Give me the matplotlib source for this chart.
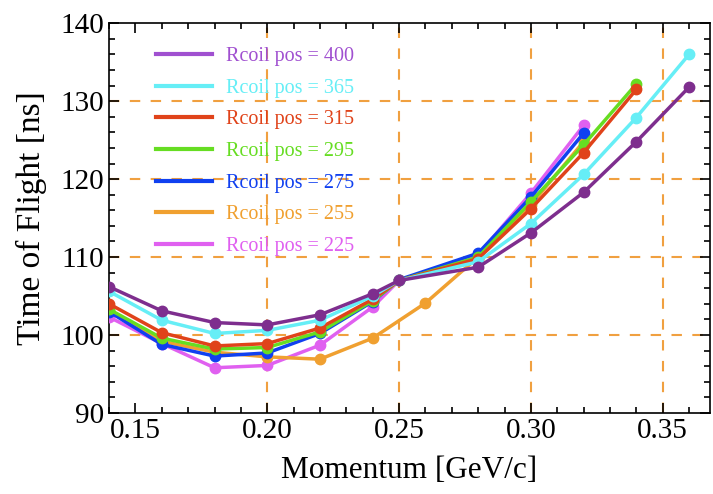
import matplotlib
matplotlib.use('Agg')
import matplotlib.pyplot as plt
from matplotlib.lines import Line2D
from matplotlib.ticker import MultipleLocator, FormatStrFormatter

plt.rcParams['font.family'] = ['Liberation Serif', 'DejaVu Serif']

# Momentum values [GeV/c]
p_std = [0.14, 0.16, 0.18, 0.20, 0.22, 0.24, 0.25, 0.28, 0.30, 0.32]
p_orange = [0.14, 0.16, 0.18, 0.20, 0.22, 0.24, 0.26, 0.28, 0.30, 0.32]
p_to_034 = p_std + [0.34]
p_to_036 = p_std + [0.34, 0.36]

# Time of flight [ns] for each Rcoil position
tof_400 = [106.2, 103.1, 101.6, 101.3, 102.6, 105.3, 107.0, 108.7, 113.1, 118.3, 124.8, 131.8]
tof_365 = [105.6, 101.9, 100.2, 100.6, 101.9, 105.0, 107.0, 109.4, 114.3, 120.6, 127.9, 136.0]
tof_315 = [104.0, 100.3, 98.6, 98.9, 100.9, 104.6, 107.0, 109.8, 116.2, 123.4, 131.5]
tof_295 = [103.3, 99.6, 98.2, 98.4, 100.4, 104.4, 107.0, 110.0, 117.1, 124.4, 132.2]
tof_275 = [103.0, 98.8, 97.3, 97.7, 100.2, 104.3, 107.1, 110.5, 117.7, 125.9]
tof_255 = [103.1, 99.2, 97.8, 97.2, 96.9, 99.6, 104.1, 110.0, 116.7, 124.8]
tof_225 = [102.3, 98.9, 95.8, 96.1, 98.7, 103.6, 107.0, 110.3, 118.2, 126.9]

labels = ['Rcoil pos = 400', 'Rcoil pos = 365', 'Rcoil pos = 315', 'Rcoil pos = 295',
          'Rcoil pos = 275', 'Rcoil pos = 255', 'Rcoil pos = 225']
xs = [p_to_036, p_to_036, p_to_034, p_to_034, p_std, p_orange, p_std]
ys = [tof_400, tof_365, tof_315, tof_295, tof_275, tof_255, tof_225]
colors = ['#7e2e8e', '#66eef6', '#e0431a', '#66dd22', '#1040f0', '#f0a030', '#e060f0']
legend_colors = ['#a050d0', '#66eef6', '#e0431a', '#66dd22', '#1040f0', '#f0a030', '#e060f0']

grid_x = [0.20, 0.25, 0.30, 0.35]
grid_y = [100, 110, 120, 130]
grid_color = '#f0a040'

fig = plt.figure(figsize=(7.13, 4.94), dpi=100)
ax = fig.add_axes([0.153, 0.164, 0.843, 0.789])

for gx in grid_x:
    ax.axvline(gx, color=grid_color, linestyle=(0, (5, 5)), linewidth=1.5, zorder=1)
for gy in grid_y:
    ax.axhline(gy, color=grid_color, linestyle=(0, (5, 5)), linewidth=1.5, zorder=1)

# draw lowest Rcoil first so larger ones sit on top
for x, y, c in reversed(list(zip(xs, ys, colors))):
    ax.plot(x, y, color=c, linewidth=2.5, marker='o', markersize=7.5, zorder=3)

ax.set_xlim(0.14, 0.368)
ax.set_ylim(90, 140)
ax.xaxis.set_major_locator(MultipleLocator(0.05))
ax.xaxis.set_minor_locator(MultipleLocator(0.01))
ax.yaxis.set_major_locator(MultipleLocator(10))
ax.yaxis.set_minor_locator(MultipleLocator(2))
ax.xaxis.set_major_formatter(FormatStrFormatter('%.2f'))
ax.tick_params(which='both', direction='in', top=True, right=True, labelsize=21, width=1.2)
ax.tick_params(which='major', length=7)
ax.tick_params(which='minor', length=4)
for s in ax.spines.values():
    s.set_linewidth(1.2)

ax.set_xlabel('Momentum [GeV/c]', fontsize=22.5, labelpad=9)
ax.set_ylabel('Time of Flight [ns]', fontsize=24, labelpad=10)

handles = [Line2D([], [], color=c, linewidth=3) for c in legend_colors]
leg = ax.legend(handles, labels, loc='upper left', bbox_to_anchor=(0.048, 0.985),
                frameon=False, fontsize=14.5, handlelength=2.8, labelspacing=0.62,
                handletextpad=0.65)
for t, c in zip(leg.get_texts(), legend_colors):
    t.set_color(c)

fig.savefig('out.png', dpi=100)
